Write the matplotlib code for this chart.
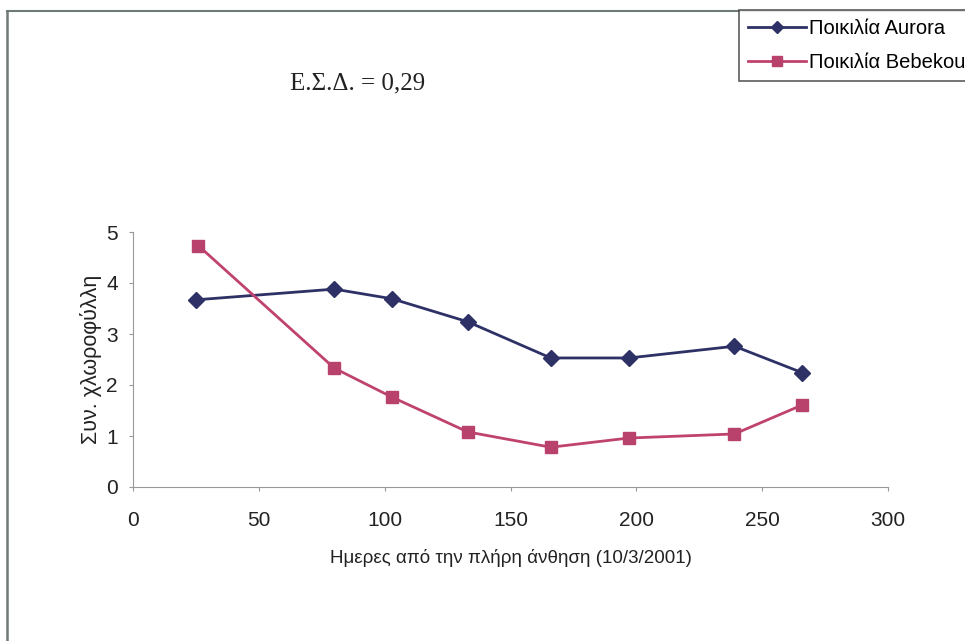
import matplotlib.pyplot as plt
from matplotlib.lines import Line2D

# data
days_aurora = [25, 80, 103, 133, 166, 197, 239, 266]
aurora = [3.67, 3.88, 3.69, 3.24, 2.53, 2.53, 2.76, 2.24]
days_bebekou = [26, 80, 103, 133, 166, 197, 239, 266]
bebekou = [4.73, 2.33, 1.76, 1.08, 0.78, 0.96, 1.04, 1.61]

x_ticks = [0, 50, 100, 150, 200, 250, 300]
y_ticks = [0, 1, 2, 3, 4, 5]

plt.rcParams['font.family'] = ['Liberation Sans', 'DejaVu Sans']

fig = plt.figure(figsize=(9.65, 6.41), dpi=100)
ax = fig.add_axes([133 / 965, 1 - 487 / 641, (888 - 133) / 965, (487 - 232) / 641])

# figure frame (top and left edges only, as in the scan)
fig.add_artist(Line2D([7 / 965, 7 / 965], [0, 1 - 11 / 641], color='#707a78', lw=1.8,
                      transform=fig.transFigure))
fig.add_artist(Line2D([7 / 965, 1], [1 - 11 / 641, 1 - 11 / 641], color='#707a78', lw=1.5,
                      transform=fig.transFigure))

ax.plot(days_aurora, aurora, color='#2e3166', lw=2, marker='D', markersize=8,
        markerfacecolor='#2e3166', markeredgecolor='#2e3166', label='Ποικιλία Aurora')
ax.plot(days_bebekou, bebekou, color='#c0426f', lw=2, marker='s', markersize=9,
        markerfacecolor='#b8426c', markeredgecolor='#b8426c', label='Ποικιλία Bebekou')

ax.set_xlim(0, 300)
ax.set_ylim(0, 5)
ax.set_xticks(x_ticks)
ax.set_yticks(y_ticks)
ax.tick_params(labelsize=15, color='#999999', direction='out', length=3, labelcolor='#222222')
ax.tick_params(axis='x', pad=14)
ax.tick_params(axis='y', pad=8)
for side in ['top', 'right']:
    ax.spines[side].set_visible(False)
for side in ['left', 'bottom']:
    ax.spines[side].set_color('#999999')
ax.set_xlabel('Ημερες από την πλήρη άνθηση (10/3/2001)', fontsize=13.5, labelpad=14, color='#222222')
ax.set_ylabel('Συν. χλωροφύλλη', fontsize=15.5, labelpad=3, color='#222222')

fig.text(358 / 965, 1 - 83 / 641, 'Ε.Σ.Δ. = 0,29', family='Liberation Serif', fontsize=18,
         ha='center', va='center', color='#222222')

leg = fig.legend(loc='upper left', bbox_to_anchor=(739 / 965, 1 - 10 / 641), fontsize=14.5,
                 frameon=True, fancybox=False, edgecolor='#333333', handlelength=2.9,
                 borderpad=0.45, labelspacing=0.75, handletextpad=0.15, borderaxespad=0,
                 markerscale=0.8)
leg.get_frame().set_linewidth(1.2)

fig.savefig('out.png', dpi=100)
